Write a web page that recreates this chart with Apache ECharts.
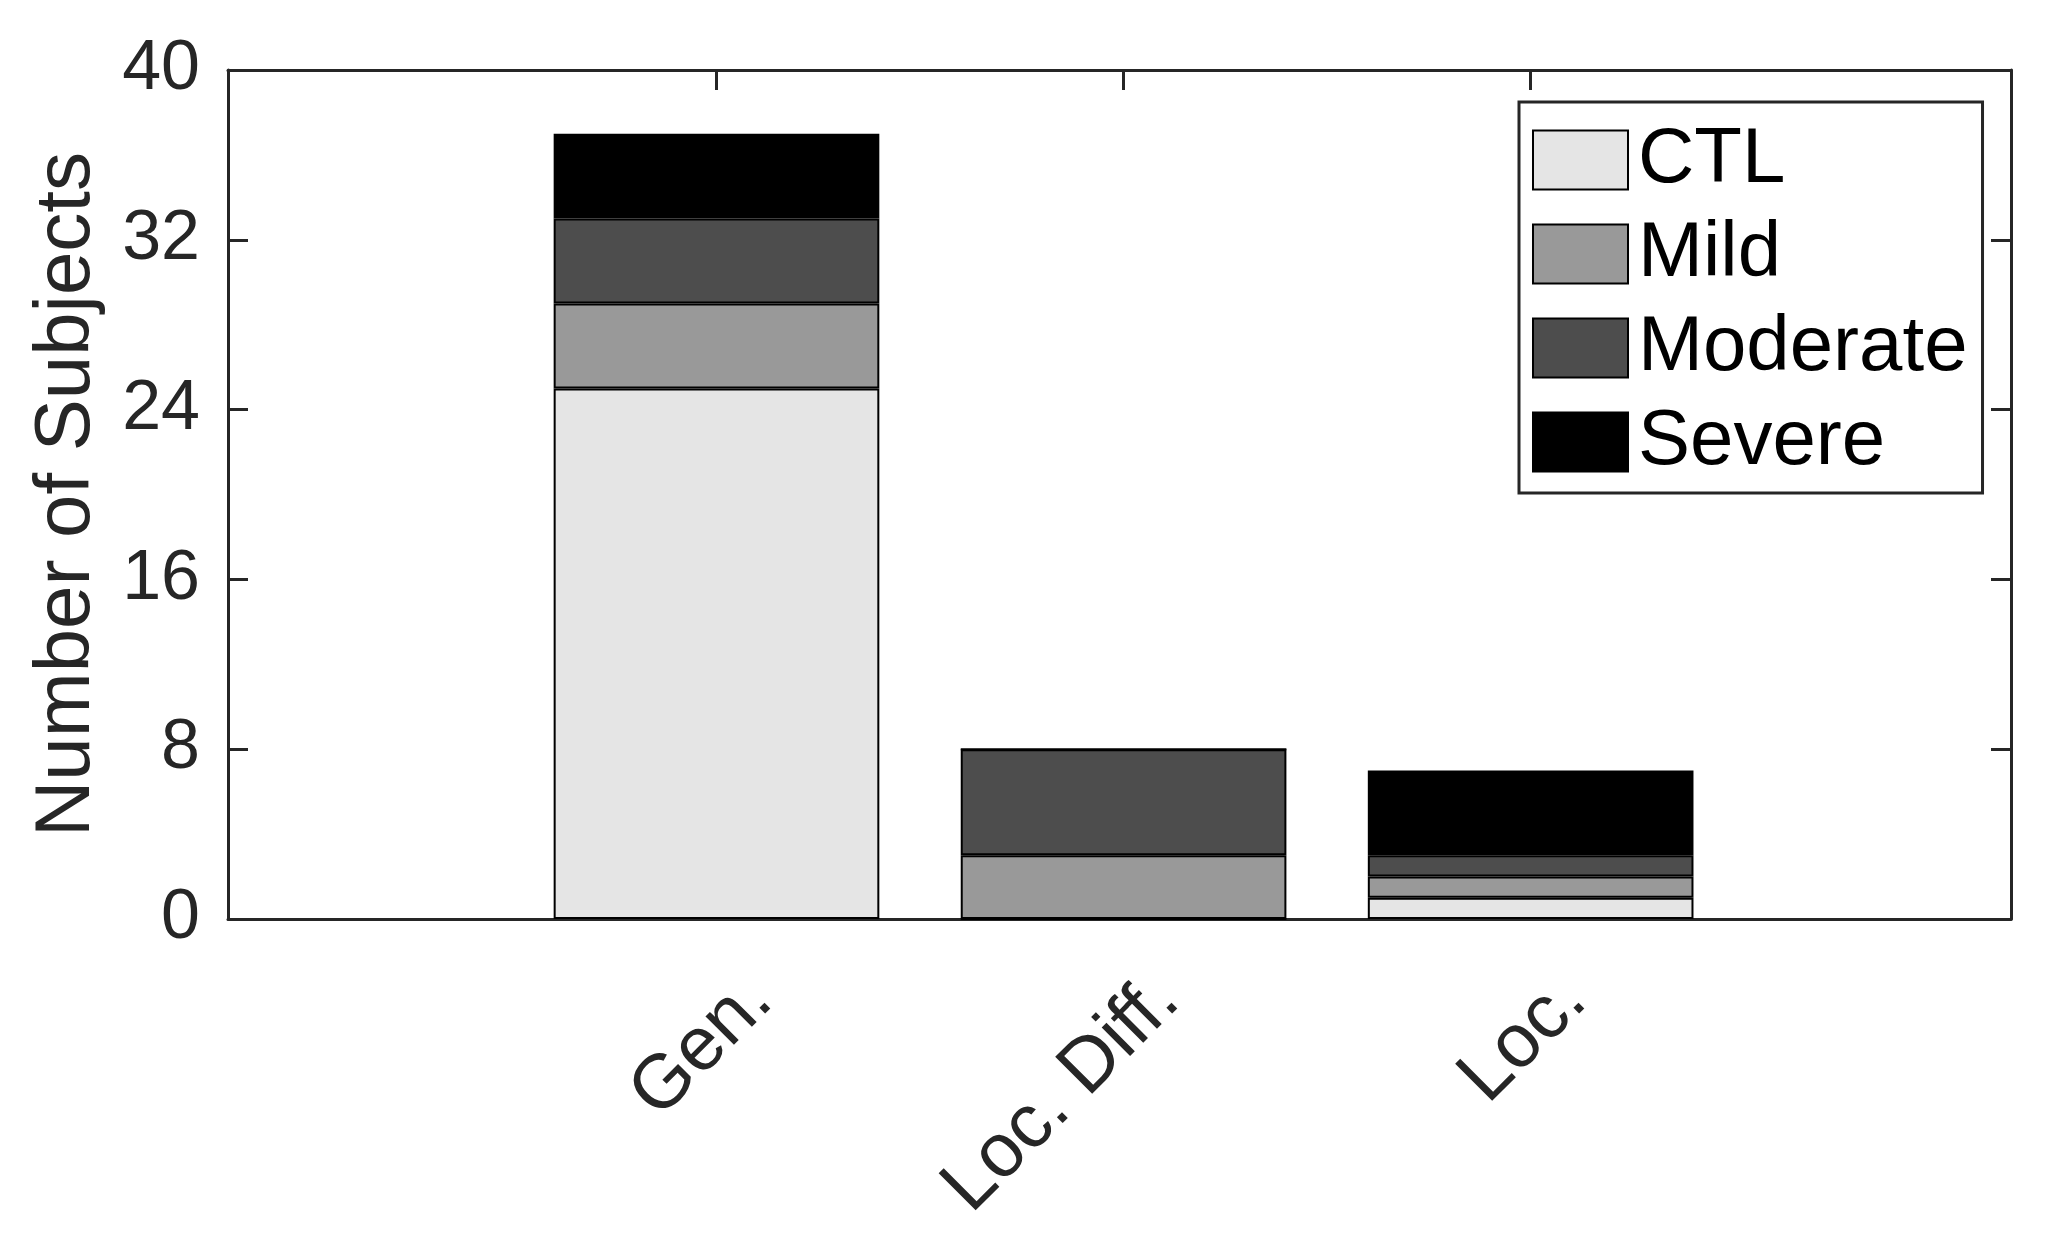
<!DOCTYPE html>
<html>
<head>
<meta charset="utf-8">
<script src="https://cdn.jsdelivr.net/npm/echarts@6/dist/echarts.min.js"></script>
<style>html,body{margin:0;padding:0;background:#fff}#c{width:2048px;height:1237px}</style>
</head>
<body>
<div id="c"></div>
<script>
var categories = ['Gen.', 'Loc. Diff.', 'Loc.'];
var categoryPositions = [1, 2, 3];
var seriesNames = ['CTL', 'Mild', 'Moderate', 'Severe'];
var ctlValues = [25, 0, 1];
var mildValues = [4, 3, 1];
var moderateValues = [4, 5, 1];
var severeValues = [4, 0, 4];
var yTicks = [0, 8, 16, 24, 32, 40];
var colors = ['#e5e5e5', '#999999', '#4d4d4d', '#000000'];

var allValues = [ctlValues, mildValues, moderateValues, severeValues];
var FONT = '"Liberation Sans", Arial, Helvetica, sans-serif';
var gridLeft = 228, gridRight = 37, gridTop = 70, gridBottom = 318;
var xMin = -0.2, xMax = 4.18;
var plotW = 2048 - gridLeft - gridRight;
var barW = plotW * 0.8 / (xMax - xMin);

var chart = echarts.init(document.getElementById('c'), null, {renderer: 'canvas'});
var series = seriesNames.map(function (name, si) {
  return {
    name: name,
    type: 'bar',
    stack: 'total',
    barWidth: barW,
    xAxisIndex: 0,
    yAxisIndex: 0,
    dimensions: ['count', 'pos'],
    encode: {x: 'pos', y: 'count'},
    itemStyle: {color: colors[si], borderColor: '#000', borderWidth: 2},
    emphasis: {disabled: true},
    data: categoryPositions.map(function (x, i) { return [allValues[si][i], x]; })
  };
});

var axisLineStyle = {show: true, onZero: false, lineStyle: {color: '#262626', width: 3}};
var tickStyle = {color: '#262626', width: 3};
chart.setOption({
  animation: false,
  backgroundColor: '#fff',
  grid: {left: gridLeft, right: gridRight, top: gridTop, bottom: gridBottom, containLabel: false, outerBoundsMode: 'none'},
  legend: {
    data: seriesNames,
    orient: 'vertical',
    left: 1519,
    top: 102,
    itemWidth: 95,
    itemHeight: 59,
    itemGap: 16,
    padding: [19, 15, 12, 13],
    borderColor: '#262626',
    borderWidth: 3,
    backgroundColor: '#fff',
    icon: 'rect',
    selectedMode: false,
    textStyle: {fontFamily: FONT, fontSize: 78, color: '#000', padding: [0, 0, 0, 5]}
  },
  xAxis: [{
    type: 'value', min: xMin, max: xMax, position: 'bottom',
    axisLine: axisLineStyle,
    splitLine: {show: false},
    axisTick: {show: true, inside: true, length: 20, customValues: categoryPositions, lineStyle: tickStyle},
    axisLabel: {
      customValues: categoryPositions,
      rotate: 45,
      margin: 26,
      align: 'right',
      verticalAlign: 'top',
      lineHeight: 124,
      fontFamily: FONT, fontSize: 76, color: '#262626',
      formatter: function (v) { var i = categoryPositions.indexOf(Math.round(v)); return i >= 0 ? categories[i] : ''; }
    }
  }, {
    type: 'value', min: xMin, max: xMax, position: 'top',
    axisLine: axisLineStyle,
    splitLine: {show: false},
    axisTick: {show: true, inside: true, length: 20, customValues: categoryPositions, lineStyle: tickStyle},
    axisLabel: {show: false}
  }],
  yAxis: [{
    type: 'value', min: 0, max: 40, interval: 8, position: 'left',
    name: 'Number of Subjects', nameLocation: 'middle', nameGap: 122,
    nameTextStyle: {fontFamily: FONT, fontSize: 78, color: '#262626'},
    axisLine: axisLineStyle,
    splitLine: {show: false},
    axisTick: {show: true, inside: true, length: 20, lineStyle: tickStyle},
    axisLabel: {margin: 28, fontFamily: FONT, fontSize: 70, color: '#262626',
      formatter: function (v) { return yTicks.indexOf(v) >= 0 ? String(v) : ''; }}
  }, {
    type: 'value', min: 0, max: 40, interval: 8, position: 'right',
    axisLine: axisLineStyle,
    splitLine: {show: false},
    axisTick: {show: true, inside: true, length: 20, lineStyle: tickStyle},
    axisLabel: {show: false}
  }],
  series: series
});
</script>
</body>
</html>
